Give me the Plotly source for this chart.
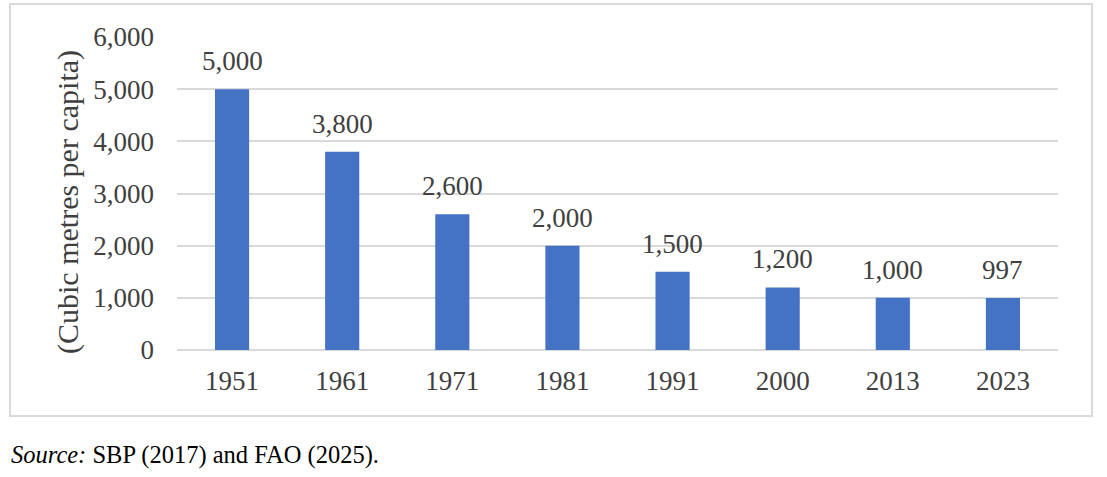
import plotly.graph_objects as go

# water availability per capita
years = ["1951", "1961", "1971", "1981", "1991", "2000", "2013", "2023"]
values = [5000, 3800, 2600, 2000, 1500, 1200, 1000, 997]
y_ticks = [0, 1000, 2000, 3000, 4000, 5000, 6000]

SERIF = "Liberation Serif, Times New Roman, serif"
GREY_TXT = "#404040"
GRID = "#d9d9d9"

W, H = 1107, 477
L, R, T, B = 177, 49, 37, 127
pw, ph = W - L - R, H - T - B


def px_x(x):
    return (x - L) / pw


def px_y(y):
    return (H - B - y) / ph


fig = go.Figure(go.Bar(
    x=years,
    y=values,
    marker=dict(color="#4472C4", line=dict(width=0)),
    hoverinfo="x+y",
))

# value labels sit a bit higher than plotly's "outside" text would put them;
# on a category axis the annotation x is the category's index
for i, v in enumerate(values):
    fig.add_annotation(
        x=i, y=v, text=f"{v:,}",
        xref="x", yref="y",
        xanchor="center", yanchor="middle",
        yshift=28, showarrow=False,
        font=dict(family=SERIF, size=27, color=GREY_TXT),
    )

fig.update_layout(
    width=W, height=H,
    margin=dict(l=L, r=R, t=T, b=B),
    paper_bgcolor="white",
    plot_bgcolor="white",
    bargap=0.69,
    showlegend=False,
    font=dict(family=SERIF, size=27, color=GREY_TXT),
)

fig.update_xaxes(
    type="category",
    categoryorder="array",
    categoryarray=years,
    showgrid=False,
    showline=False,
    ticks="",
    tickfont=dict(family=SERIF, size=27, color=GREY_TXT),
    ticklabelstandoff=12,
)
fig.update_yaxes(
    range=[0, 6000],
    tickvals=y_ticks,
    ticktext=[f"{v:,}" for v in y_ticks],
    showgrid=True,
    gridcolor=GRID,
    gridwidth=1.5,
    zeroline=True,
    zerolinecolor=GRID,
    zerolinewidth=1.5,
    showline=False,
    ticks="",
    tickfont=dict(family=SERIF, size=27, color=GREY_TXT),
    ticklabelstandoff=22,
)

# y axis title placed by hand
fig.add_annotation(
    text="(Cubic metres per capita)",
    textangle=-90,
    x=px_x(68), y=px_y(202),
    xref="paper", yref="paper",
    xanchor="center", yanchor="middle",
    showarrow=False,
    font=dict(family=SERIF, size=30, color=GREY_TXT),
)

# chart border box
fig.add_shape(
    type="rect",
    xref="paper", yref="paper",
    x0=px_x(10), x1=px_x(1092),
    y0=px_y(416), y1=px_y(4),
    line=dict(color=GRID, width=2),
    fillcolor="rgba(0,0,0,0)",
    layer="below",
)

# source note
fig.add_annotation(
    text="<i>Source:</i> SBP (2017) and FAO (2025).",
    x=px_x(9), y=px_y(455),
    xref="paper", yref="paper",
    xanchor="left", yanchor="middle",
    showarrow=False,
    font=dict(family=SERIF, size=24.5, color="black"),
)

# drop the default body margin so the figure sits at the page origin
fig.write_html(
    "out.html",
    config={"displayModeBar": False},
    post_script="document.body.style.margin='0';",
)
